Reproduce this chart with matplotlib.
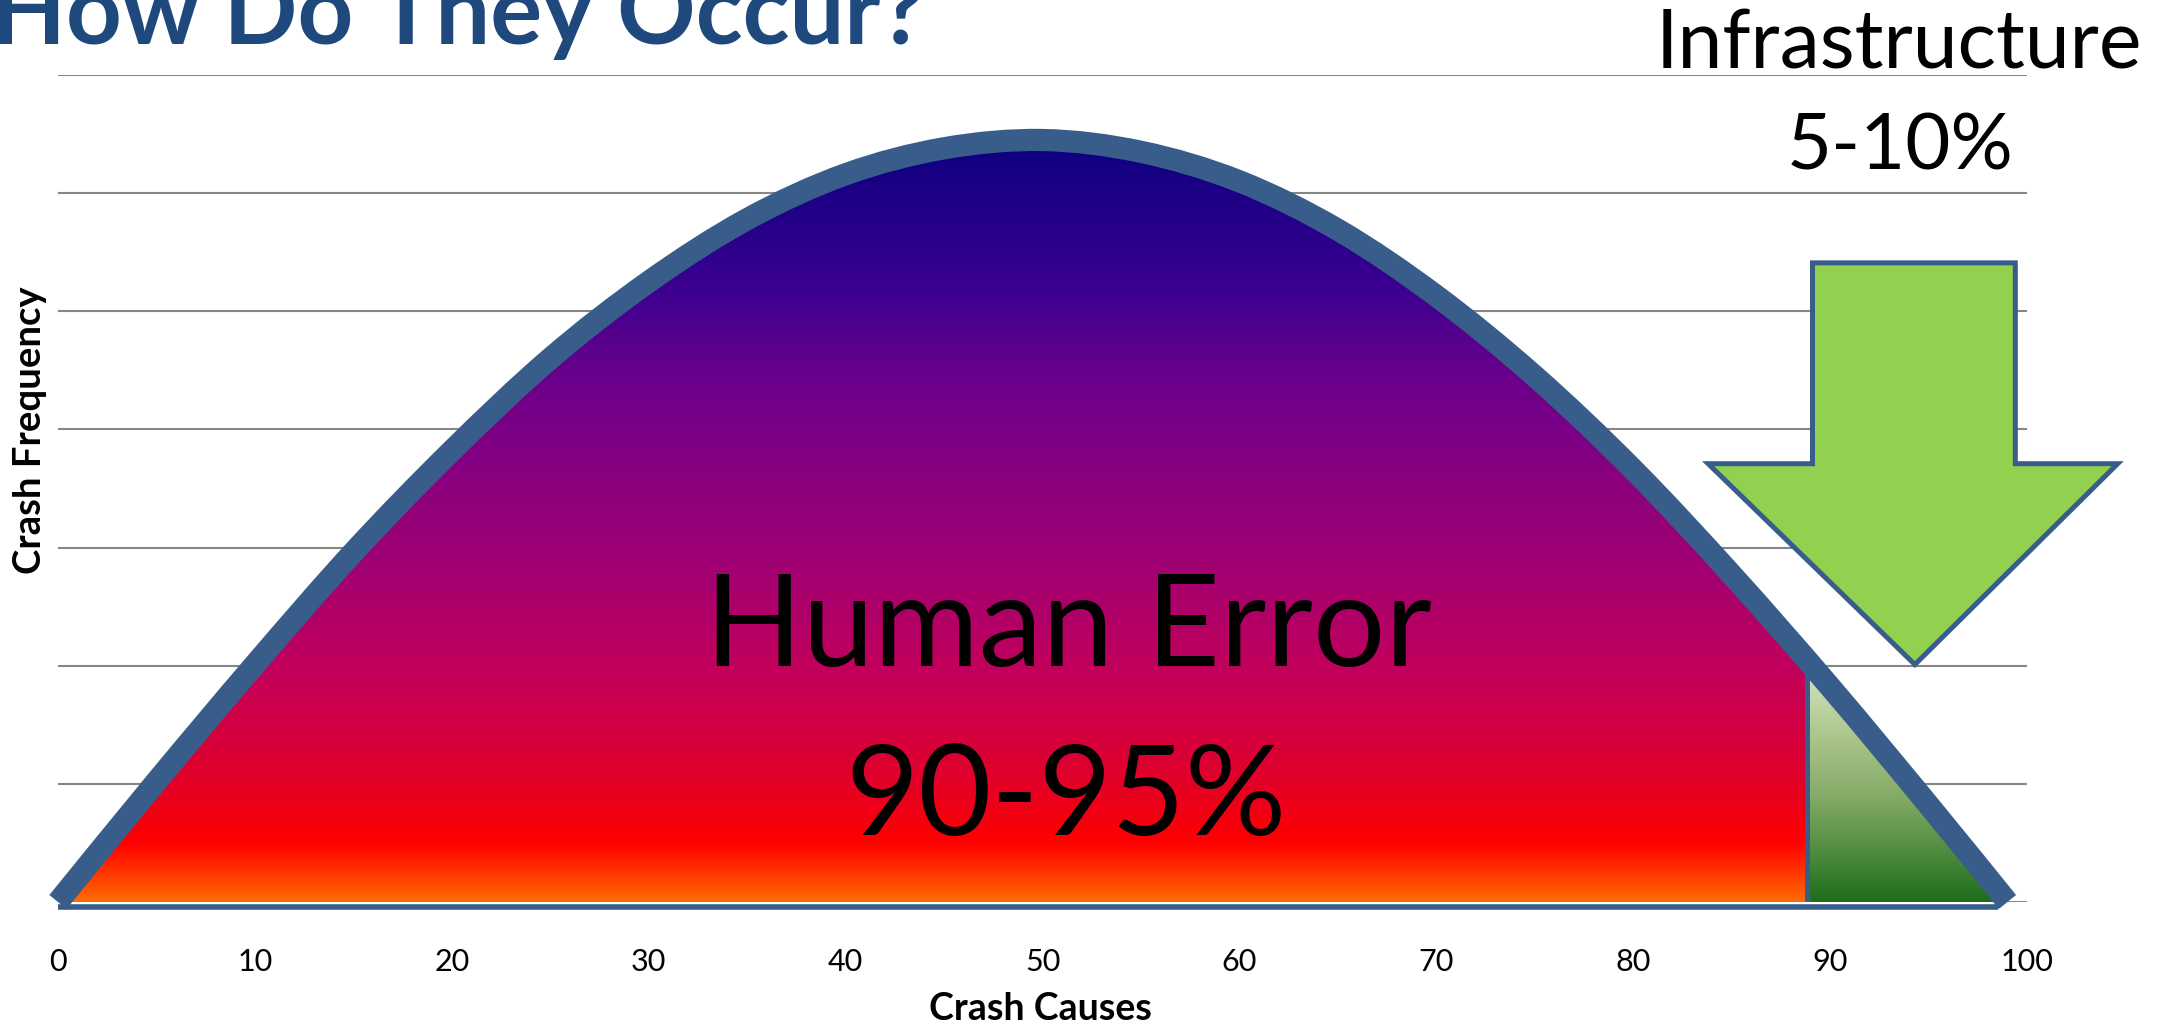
import matplotlib.pyplot as plt
import numpy as np
from matplotlib.path import Path
from matplotlib.patches import PathPatch, Polygon
from matplotlib.colors import LinearSegmentedColormap

# crash causes (x) against crash frequency (y)
causes = [0, 5, 10, 15, 20, 25, 30, 35, 40, 45, 50, 55, 60, 65, 70, 75, 80, 85, 90, 95, 99]
frequency = [0, 10.2, 20.1, 29.6, 38.2, 46.0, 52.5, 57.8, 61.6, 63.8, 64.5,
             63.5, 61.0, 56.9, 51.3, 44.5, 36.6, 27.7, 18.2, 8.2, 0]
x_ticks = [0, 10, 20, 30, 40, 50, 60, 70, 80, 90, 100]
y_grid = [0, 10, 20, 30, 40, 50, 60, 70]
split_at = 88.8   # human error to the left, infrastructure to the right
human_label = ["Human Error", "90-95%"]
infra_label = ["Infrastructure", "5-10%"]

BLUE = '#385D8A'
plt.rcParams['font.family'] = ['Lato', 'DejaVu Sans']


def smoothPath(xs, ys, close=False):
    """Catmull-Rom style bezier path through the points (like a smoothed line)."""
    pts = np.column_stack([xs, ys]).astype(float)
    padded = np.vstack([pts[0], pts, pts[-1]])
    verts = [pts[0]]
    codes = [Path.MOVETO]
    for i in range(1, len(padded) - 2):
        p0, p1, p2, p3 = padded[i - 1], padded[i], padded[i + 1], padded[i + 2]
        verts += [p1 + (p2 - p0) / 6, p2 - (p3 - p1) / 6, p2]
        codes += [Path.CURVE4] * 3
    if close:
        verts += [(xs[-1], -0.3), (xs[0], -0.3), pts[0]]
        codes += [Path.LINETO, Path.LINETO, Path.CLOSEPOLY]
    return Path(verts, codes)


fig = plt.figure(figsize=(21.72, 10.25), dpi=100)
ax = fig.add_axes([0.0267, 0.12, 0.9066, 0.8068])

# gradient fills, clipped to the area under the curve
area = PathPatch(smoothPath(causes, frequency, close=True), transform=ax.transData,
                 facecolor='none', edgecolor='none')
ax.add_patch(area)

peak = max(frequency)
grad = np.linspace(0, 1, 256).reshape(-1, 1)
red_cmap = LinearSegmentedColormap.from_list('human', [
    (0.0, '#ff7000'), (0.08, '#ff0000'), (0.17, '#e0002c'), (0.30, '#c4005a'),
    (0.43, '#a40070'), (0.56, '#8a0080'), (0.69, '#6a008c'), (0.82, '#380090'),
    (1.0, '#0c0080')])
green_cmap = LinearSegmentedColormap.from_list('infra', [
    (0.0, '#1a6b1a'), (0.2, '#4a8a3c'), (0.45, '#86ab68'), (0.7, '#adc78d'), (1.0, '#d8e8c8')])

im = ax.imshow(grad, cmap=red_cmap, extent=[0, split_at, -0.3, peak], origin='lower',
               aspect='auto', zorder=2)
im.set_clip_path(area)
split_top = np.interp(split_at, causes, frequency)
im2 = ax.imshow(grad, cmap=green_cmap, extent=[split_at, 100, -0.3, split_top], origin='lower',
                aspect='auto', zorder=2)
im2.set_clip_path(area)

ax.plot([split_at, split_at], [-0.3, split_top], color=BLUE, lw=3.6, zorder=3)
ax.plot([0, 98.5], [-0.4, -0.4], color=BLUE, lw=4, zorder=3, solid_capstyle='butt',
        clip_on=False)

curve = PathPatch(smoothPath(causes, frequency), facecolor='none', edgecolor=BLUE, lw=16,
                  capstyle='butt', zorder=4, clip_on=False)
ax.add_patch(curve)

# arrow pointing at the infrastructure slice
arrow = Polygon([(89.1, 54.1), (99.4, 54.1), (99.4, 37.1), (104.6, 37.1), (94.3, 20.1),
                 (83.8, 37.1), (89.1, 37.1)], closed=True, facecolor='#92D050',
                edgecolor=BLUE, lw=3.6, zorder=5, clip_on=False)
ax.add_patch(arrow)

ax.text(51.3, 20.0, human_label[0], fontsize=92, ha='center', va='baseline', zorder=6)
ax.text(51.2, 5.7, human_label[1], fontsize=91, ha='center', va='baseline', zorder=6)

fig.text(0.8743, 0.9327, infra_label[0], fontsize=58, ha='center', va='baseline')
fig.text(0.8748, 0.835, infra_label[1], fontsize=56, ha='center', va='baseline')

fig.text(-0.004, 0.957, "How Do They Occur?", fontsize=70, fontweight='bold',
         color='#1F497D', ha='left', va='baseline')

ax.set_xlim(0, 100)
ax.set_ylim(0, 70)
ax.set_xticks(x_ticks)
ax.set_yticks(y_grid)
ax.set_yticklabels([])
ax.tick_params(axis='both', length=0)
ax.tick_params(axis='x', labelsize=22, pad=33)
ax.yaxis.grid(True, color='#868686', lw=1.5)
ax.set_axisbelow(True)
for s in ax.spines.values():
    s.set_visible(False)

fig.text(0.479, 0.005, "Crash Causes", fontsize=27, fontweight='bold', ha='center', va='baseline')
fig.text(0.014, 0.580, "Crash Frequency", fontsize=27.5, fontweight='bold', ha='center',
         va='center', rotation=90)

fig.savefig('out.png', dpi=100)
